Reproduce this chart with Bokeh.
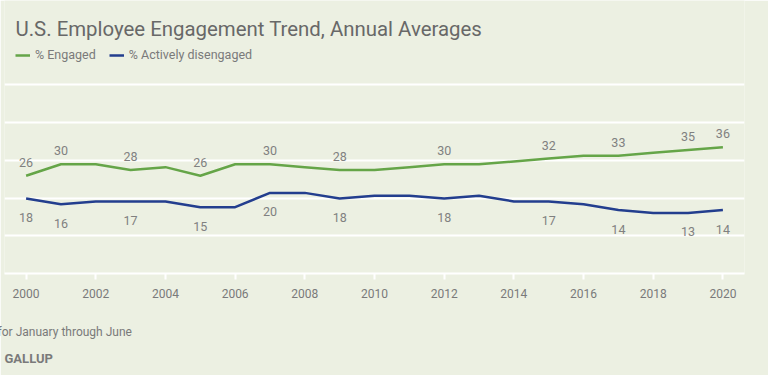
from bokeh.plotting import figure
from bokeh.models import Label, Legend, LegendItem, FixedTicker, Range1d, ColumnDataSource, Title
from bokeh.core.properties import value
from bokeh.embed import file_html
from bokeh.resources import INLINE

# ---- data ----
years = list(range(2000, 2021))
engaged = [26, 30, 30, 28, 29, 26, 30, 30, 29, 28, 28, 29, 30, 30, 31, 32, 33, 33, 34, 35, 36]
disengaged = [18, 16, 17, 17, 17, 15, 15, 20, 20, 18, 19, 19, 18, 19, 17, 17, 16, 14, 13, 13, 14]
label_years = [2000, 2001, 2003, 2005, 2007, 2009, 2012, 2015, 2017, 2019, 2020]
tick_years = list(range(2000, 2021, 2))
grid_values = [-8.2, 5.0, 18.2, 31.4, 44.6, 57.8]

title_text = "U.S. Employee Engagement Trend, Annual Averages"
note_text = "Note: 2018 results are for January through June"
source_text = "GALLUP"

BG = "#ecf0e2"
GREEN = "#65a548"
BLUE = "#233e8e"
FONT = "Roboto"

p = figure(width=768, height=375, title=None,
           x_range=Range1d(1999.38, 2020.62), y_range=Range1d(-8.2, 87.29),
           output_backend="svg", toolbar_location=None, y_axis_location=None,
           min_border_left=4, min_border_right=24, min_border_top=0, min_border_bottom=102)
p.background_fill_color = BG
p.border_fill_color = BG
p.outline_line_color = None

p.xgrid.grid_line_color = None
p.ygrid.ticker = FixedTicker(ticks=grid_values)
p.ygrid.grid_line_color = "white"
p.ygrid.grid_line_width = 2

ax = p.xaxis[0]
ax.ticker = FixedTicker(ticks=tick_years)
ax.axis_line_color = "white"
ax.axis_line_width = 2
ax.major_tick_line_color = "white"
ax.major_tick_line_width = 2
ax.major_tick_out = 6
ax.major_tick_in = 0
ax.minor_tick_line_color = None
ax.major_label_text_font = FONT
ax.major_label_text_font_size = "12px"
ax.major_label_text_color = "#7a7a7a"
ax.major_label_standoff = 9

r1 = p.line(years, engaged, line_color=GREEN, line_width=2.5, line_join="round")
r2 = p.line(years, disengaged, line_color=BLUE, line_width=2.5, line_join="round")

eng_lbl = [engaged[years.index(y)] for y in label_years]
dis_lbl = [disengaged[years.index(y)] for y in label_years]
src_e = ColumnDataSource(dict(x=label_years, y=eng_lbl, t=[str(v) for v in eng_lbl]))
src_d = ColumnDataSource(dict(x=label_years, y=dis_lbl, t=[str(v) for v in dis_lbl]))
for src, off in ((src_e, -13.5), (src_d, 19)):
    p.text(x="x", y="y", text="t", source=src, y_offset=off,
           text_align="center", text_baseline="middle",
           text_font=value(FONT), text_font_size="12.5px", text_color="#808080")

# chart title inside the (extended) frame, screen units relative to frame bottom-left
p.add_layout(Label(x=11, y=245, x_units="screen", y_units="screen", text=title_text,
                   text_font=FONT, text_font_size="20.4px", text_color="#686868",
                   text_baseline="alphabetic"))

legend = Legend(items=[LegendItem(label="% Engaged", renderers=[r1]),
                       LegendItem(label="% Actively disengaged", renderers=[r2])],
                orientation="horizontal", location=(11, 210.7),
                glyph_width=15, glyph_height=12, label_height=12, label_standoff=5,
                spacing=13, padding=0, margin=0,
                label_text_font=FONT, label_text_font_size="12.5px", label_text_color="#7a7a7a",
                background_fill_alpha=0, border_line_color=None)
p.add_layout(legend, "center")

# the note as a start-aligned axis label under the year labels
ax.axis_label = note_text
ax.axis_label_align = "start"
ax.axis_label_standoff = 24
ax.axis_label_text_font = FONT
ax.axis_label_text_font_size = "12px"
ax.axis_label_text_font_style = "normal"
ax.axis_label_text_color = "#7a7a7a"

p.add_layout(Title(text=source_text, align="left", offset=0, standoff=15,
                   text_font=FONT, text_font_size="13px", text_font_style="bold",
                   text_color="#7a7a7a"), "below")

html = file_html(p, INLINE)
html = html.replace("<body>", '<body style="background-color:%s;">' % BG, 1)
open("out.html", "w").write(html)
